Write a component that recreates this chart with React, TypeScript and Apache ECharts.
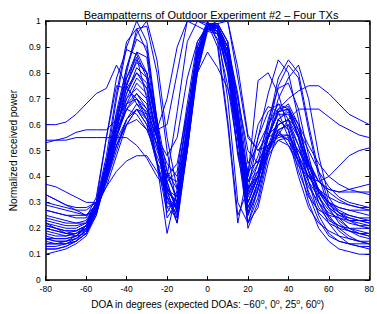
import React, { useEffect, useRef } from "react";
import * as echarts from "echarts";

const doaDegrees = [-80,-75,-70,-65,-60,-55,-50,-45,-40,-35,-30,-25,-20,-15,-10,-5,0,5,10,15,20,25,30,35,40,45,50,55,60,65,70,75,80];

const beam01 = [0.60,0.60,0.61,0.64,0.68,0.72,0.74,0.83,0.75,0.68,0.62,0.52,0.40,0.38,0.65,0.88,0.97,0.95,0.80,0.55,0.35,0.40,0.50,0.58,0.60,0.52,0.42,0.35,0.30,0.26,0.24,0.23,0.22];
const beam02 = [0.54,0.54,0.55,0.57,0.58,0.58,0.58,0.62,0.68,0.72,0.66,0.55,0.45,0.40,0.62,0.85,0.99,0.96,0.84,0.60,0.38,0.42,0.55,0.65,0.66,0.60,0.52,0.45,0.40,0.37,0.35,0.34,0.34];
const beam03 = [0.53,0.54,0.54,0.55,0.55,0.55,0.55,0.55,0.55,0.52,0.47,0.40,0.35,0.32,0.55,0.80,0.98,0.97,0.88,0.70,0.50,0.45,0.50,0.56,0.62,0.66,0.66,0.66,0.63,0.60,0.58,0.56,0.55];
const beam04 = [0.22,0.20,0.18,0.17,0.18,0.25,0.40,0.58,0.75,0.88,0.80,0.62,0.42,0.30,0.55,0.82,0.97,0.98,0.90,0.72,0.45,0.52,0.60,0.66,0.70,0.73,0.75,0.75,0.72,0.68,0.64,0.62,0.60];
const beam05 = [0.15,0.14,0.14,0.15,0.18,0.27,0.45,0.70,0.90,1.00,0.92,0.62,0.30,0.28,0.60,0.88,0.99,0.97,0.85,0.55,0.25,0.35,0.50,0.62,0.65,0.55,0.42,0.32,0.25,0.20,0.17,0.15,0.14];
const beam06 = [0.17,0.16,0.16,0.17,0.20,0.28,0.42,0.62,0.82,0.95,1.00,0.85,0.55,0.35,0.58,0.85,0.98,0.99,0.92,0.65,0.30,0.40,0.60,0.78,0.85,0.80,0.60,0.42,0.30,0.24,0.20,0.18,0.17];
const beam07 = [0.20,0.19,0.18,0.19,0.21,0.27,0.40,0.60,0.80,0.97,0.98,0.80,0.50,0.28,0.52,0.82,0.97,0.98,0.90,0.60,0.28,0.38,0.58,0.75,0.83,0.78,0.58,0.40,0.28,0.22,0.19,0.17,0.16];
const beam08 = [0.23,0.22,0.21,0.21,0.22,0.30,0.55,0.78,0.89,0.87,0.78,0.58,0.38,0.26,0.50,0.82,0.97,0.96,0.82,0.50,0.22,0.35,0.52,0.62,0.58,0.46,0.36,0.30,0.26,0.24,0.22,0.21,0.21];
const beam09 = [0.27,0.26,0.25,0.24,0.24,0.32,0.55,0.75,0.74,0.70,0.64,0.46,0.26,0.33,0.55,0.85,0.98,0.97,0.86,0.55,0.30,0.40,0.55,0.65,0.68,0.60,0.45,0.34,0.28,0.25,0.23,0.22,0.21];
const beam10 = [0.12,0.12,0.13,0.15,0.20,0.28,0.36,0.42,0.46,0.48,0.48,0.42,0.35,0.30,0.58,0.85,0.98,0.96,0.80,0.48,0.30,0.40,0.52,0.57,0.54,0.46,0.38,0.32,0.27,0.23,0.20,0.19,0.18];
const beam11 = [0.30,0.29,0.28,0.27,0.27,0.30,0.40,0.52,0.60,0.62,0.58,0.58,0.70,0.90,1.00,1.00,0.98,0.99,1.00,0.82,0.56,0.50,0.52,0.55,0.56,0.50,0.44,0.38,0.34,0.31,0.29,0.28,0.27];
const beam12 = [0.33,0.31,0.29,0.28,0.28,0.30,0.38,0.50,0.62,0.66,0.60,0.45,0.40,0.65,0.92,1.00,0.99,0.93,0.75,0.50,0.33,0.40,0.50,0.56,0.56,0.48,0.40,0.34,0.30,0.28,0.27,0.27,0.27];
const beam13 = [0.16,0.15,0.15,0.16,0.19,0.27,0.42,0.60,0.72,0.80,0.76,0.55,0.32,0.25,0.50,0.80,0.96,0.98,0.88,0.62,0.38,0.45,0.55,0.58,0.52,0.44,0.40,0.38,0.40,0.44,0.48,0.50,0.51];
const beam14 = [0.37,0.36,0.34,0.32,0.30,0.30,0.36,0.48,0.60,0.66,0.60,0.45,0.30,0.26,0.55,0.85,0.98,0.97,0.85,0.55,0.25,0.35,0.50,0.60,0.62,0.55,0.45,0.38,0.35,0.34,0.35,0.36,0.37];
const beam15 = [0.33,0.31,0.29,0.27,0.25,0.27,0.38,0.55,0.68,0.70,0.62,0.46,0.32,0.28,0.58,0.88,0.99,0.98,0.88,0.58,0.26,0.38,0.56,0.66,0.67,0.58,0.46,0.38,0.35,0.34,0.34,0.34,0.33];
const beam16 = [0.10,0.11,0.12,0.14,0.17,0.25,0.40,0.58,0.75,0.85,0.80,0.60,0.35,0.22,0.50,0.82,0.98,0.97,0.85,0.55,0.22,0.32,0.50,0.62,0.58,0.45,0.30,0.20,0.15,0.12,0.11,0.10,0.10];
const beam17 = [0.13,0.13,0.14,0.16,0.19,0.28,0.45,0.65,0.82,0.93,0.90,0.60,0.28,0.30,0.55,0.86,0.99,0.98,0.88,0.58,0.20,0.30,0.48,0.62,0.66,0.55,0.38,0.25,0.18,0.15,0.14,0.13,0.13];
const beam18 = [0.14,0.14,0.15,0.17,0.21,0.30,0.48,0.72,0.92,0.97,0.88,0.62,0.32,0.22,0.52,0.85,0.98,0.96,0.70,0.30,0.22,0.28,0.45,0.58,0.60,0.48,0.33,0.23,0.17,0.15,0.14,0.14,0.14];
const beam19 = [0.19,0.18,0.17,0.18,0.20,0.28,0.42,0.58,0.72,0.82,0.78,0.60,0.38,0.26,0.52,0.84,0.98,0.99,0.92,0.70,0.40,0.55,0.72,0.85,0.80,0.62,0.42,0.30,0.24,0.21,0.19,0.18,0.17];
const beam20 = [0.21,0.20,0.19,0.19,0.21,0.28,0.40,0.55,0.68,0.76,0.72,0.56,0.36,0.28,0.55,0.86,0.99,0.98,0.90,0.65,0.32,0.40,0.55,0.70,0.78,0.83,0.70,0.48,0.32,0.26,0.23,0.21,0.20];
const beam21 = [0.24,0.23,0.22,0.22,0.23,0.30,0.42,0.56,0.66,0.72,0.68,0.52,0.34,0.30,0.58,0.88,0.99,0.97,0.86,0.60,0.40,0.77,0.80,0.72,0.58,0.42,0.32,0.27,0.25,0.24,0.23,0.23,0.22];
const beam22 = [0.16,0.16,0.16,0.17,0.20,0.29,0.45,0.62,0.76,0.84,0.80,0.60,0.36,0.27,0.56,0.88,0.99,0.90,0.60,0.22,0.42,0.60,0.67,0.65,0.55,0.40,0.28,0.22,0.19,0.17,0.16,0.15,0.15];
const beam23 = [0.18,0.17,0.17,0.18,0.21,0.29,0.44,0.60,0.70,0.74,0.70,0.55,0.42,0.35,0.60,0.90,1.00,0.92,0.62,0.25,0.35,0.55,0.65,0.68,0.62,0.48,0.34,0.26,0.22,0.20,0.19,0.18,0.18];
const beam24 = [0.22,0.21,0.20,0.20,0.22,0.30,0.46,0.64,0.78,0.86,0.70,0.45,0.18,0.35,0.65,0.90,0.99,0.97,0.86,0.60,0.28,0.36,0.50,0.60,0.62,0.52,0.38,0.28,0.23,0.21,0.20,0.20,0.20];
const beam25 = [0.25,0.24,0.23,0.22,0.22,0.28,0.44,0.62,0.74,0.80,0.74,0.55,0.28,0.24,0.58,0.88,0.99,0.98,0.88,0.62,0.33,0.42,0.56,0.64,0.64,0.56,0.44,0.34,0.28,0.25,0.24,0.23,0.23];
const beam26 = [0.29,0.28,0.27,0.26,0.25,0.29,0.42,0.58,0.66,0.64,0.58,0.48,0.38,0.42,0.68,0.92,0.98,0.95,0.82,0.55,0.35,0.42,0.50,0.54,0.52,0.46,0.40,0.35,0.32,0.30,0.29,0.28,0.28];
const beam27 = [0.20,0.19,0.18,0.18,0.20,0.27,0.40,0.54,0.62,0.66,0.62,0.50,0.40,0.45,0.65,0.80,0.88,0.82,0.74,0.58,0.42,0.46,0.52,0.56,0.54,0.48,0.40,0.34,0.30,0.28,0.27,0.26,0.25];
const beam28 = [0.16,0.15,0.15,0.16,0.19,0.26,0.38,0.52,0.62,0.68,0.65,0.55,0.48,0.55,0.78,0.92,0.98,1.00,1.00,0.78,0.55,0.50,0.56,0.60,0.62,0.58,0.50,0.42,0.36,0.32,0.30,0.29,0.28];
const beam29 = [0.14,0.14,0.14,0.15,0.18,0.27,0.43,0.62,0.78,0.88,0.86,0.58,0.24,0.30,0.54,0.86,0.99,0.99,0.92,0.66,0.34,0.45,0.62,0.74,0.76,0.66,0.48,0.33,0.24,0.19,0.16,0.15,0.14];
const beam30 = [0.12,0.12,0.13,0.15,0.18,0.26,0.40,0.56,0.70,0.78,0.74,0.56,0.34,0.24,0.52,0.85,0.98,0.98,0.90,0.66,0.38,0.48,0.60,0.68,0.66,0.56,0.42,0.30,0.22,0.17,0.14,0.13,0.12];
const beam31 = [0.27,0.26,0.25,0.25,0.25,0.29,0.40,0.52,0.60,0.66,0.64,0.52,0.40,0.32,0.58,0.87,0.99,0.98,0.86,0.55,0.26,0.38,0.55,0.65,0.66,0.58,0.45,0.35,0.29,0.26,0.25,0.24,0.24];
const beam32 = [0.21,0.20,0.19,0.19,0.21,0.28,0.40,0.55,0.66,0.70,0.66,0.58,0.60,0.80,1.00,0.98,0.96,0.95,0.86,0.62,0.36,0.40,0.48,0.54,0.55,0.50,0.42,0.35,0.30,0.27,0.25,0.24,0.23];

const beams = [beam01,beam02,beam03,beam04,beam05,beam06,beam07,beam08,beam09,beam10,beam11,beam12,beam13,beam14,beam15,beam16,beam17,beam18,beam19,beam20,beam21,beam22,beam23,beam24,beam25,beam26,beam27,beam28,beam29,beam30,beam31,beam32];

const titleText = "Beampatterns of Outdoor Experiment #2 \u2013 Four TXs";
const yLabelText = "Normalized received power";

const FONT = "Liberation Sans, Arial, Helvetica, sans-serif";

export default function App() {
  const ref = useRef<HTMLDivElement>(null);
  useEffect(() => {
    if (!ref.current) return;
    const chart = echarts.init(ref.current, undefined, { renderer: "svg" });
    const axisLine = { show: true, onZero: false, lineStyle: { color: "#000", width: 1.5 } };
    const tick = { show: true, inside: true, length: 4, lineStyle: { color: "#000", width: 1 } };
    chart.setOption({
      animation: false,
      backgroundColor: "#fff",
      title: {
        text: titleText,
        left: 206,
        textAlign: "center",
        top: 4,
        textStyle: { fontFamily: FONT, fontSize: 11, fontWeight: "normal", color: "#000" },
      },
      grid: { left: 38, right: 6, top: 21, bottom: 30, containLabel: false },
      xAxis: [
        {
          type: "value", min: -80, max: 80, interval: 20, position: "bottom",
          axisLine, axisTick: tick, splitLine: { show: false },
          axisLabel: { fontFamily: FONT, fontSize: 8.5, color: "#000", margin: 4 },
          name: "DOA in degrees (expected DOAs: \u221260{s|o}, 0{s|o}, 25{s|o}, 60{s|o})",
          nameLocation: "middle", nameGap: 17,
          nameTextStyle: {
            fontFamily: FONT, fontSize: 10, color: "#000",
            rich: { s: { fontFamily: FONT, fontSize: 7, verticalAlign: "top", color: "#000", padding: [0, 0, 5, 0] } },
          },
        },
        {
          type: "value", min: -80, max: 80, interval: 20, position: "top",
          axisLine, axisTick: tick, axisLabel: { show: false }, splitLine: { show: false },
        },
      ],
      yAxis: [
        {
          type: "value", min: 0, max: 1, interval: 0.1, position: "left",
          axisLine, axisTick: tick, splitLine: { show: false },
          axisLabel: { fontFamily: FONT, fontSize: 8.5, color: "#000", margin: 5 },
          name: yLabelText, nameLocation: "middle", nameGap: 21,
          nameTextStyle: { fontFamily: FONT, fontSize: 10, color: "#000" },
        },
        {
          type: "value", min: 0, max: 1, interval: 0.1, position: "right",
          axisLine, axisTick: tick, axisLabel: { show: false }, splitLine: { show: false },
        },
      ],
      series: beams.map((b, i) => ({
        name: "beam" + (i + 1),
        type: "line",
        xAxisIndex: 0,
        yAxisIndex: 0,
        data: doaDegrees.map((x, j) => [x, b[j]]),
        showSymbol: false,
        symbol: "none",
        lineStyle: { color: "#0000ff", width: 1 },
        clip: true,
      })),
    });
    return () => chart.dispose();
  }, []);
  return <div ref={ref} style={{ width: 377, height: 314, position: "absolute", left: 0, top: 0 }} />;
}
